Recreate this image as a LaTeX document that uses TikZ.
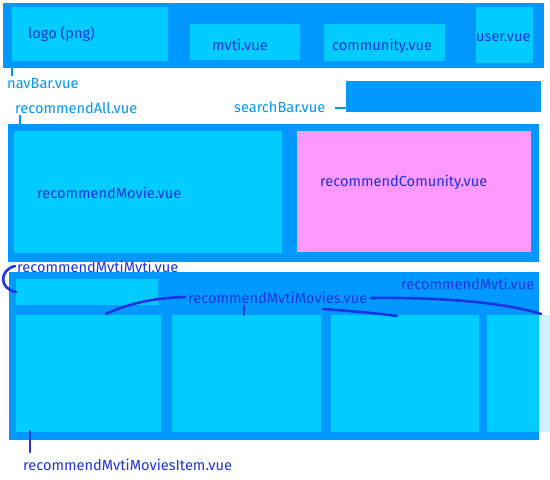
\documentclass[tikz,border=0pt]{standalone}
\usepackage{fontspec}
\setmainfont{Fira Sans}
\definecolor{cOuter}{RGB}{0,153,255}
\definecolor{cInner}{RGB}{0,204,255}
\definecolor{cPink}{RGB}{255,153,255}
\definecolor{cPale}{RGB}{204,242,255}
\definecolor{cDark}{RGB}{28,52,228}
\definecolor{cLight}{RGB}{0,150,255}
\begin{document}
\begin{tikzpicture}[x=1pt,y=-1pt,
  box/.style={draw=none, inner sep=0pt, outer sep=0pt, anchor=north west},
  outerbox/.style={box, fill=cOuter},
  innerbox/.style={box, fill=cInner},
  pinkbox/.style={box, fill=cPink},
  lab/.style={text=cDark, font=\fontsize{14.6}{16}\selectfont, inner sep=0pt, anchor=base west},
  lablight/.style={lab, text=cLight},
  wire/.style={draw=cDark, line width=2.6pt, line cap=round},
  wirelight/.style={draw=cLight, line width=2.6pt}]
\useasboundingbox (0,0) rectangle (550,480);
% navbar
\node[outerbox, minimum width=541pt, minimum height=65pt] (nav) at (3,3) {};
\node[innerbox, minimum width=156pt, minimum height=54pt] (logo) at (12,7) {};
\node[innerbox, minimum width=110pt, minimum height=36pt] (mvti) at (190,24) {};
\node[innerbox, minimum width=121pt, minimum height=37pt] (comm) at (324,24) {};
\node[innerbox, minimum width=57pt, minimum height=56pt] (user) at (476,7) {};
\node[lab] (logolbl) at (28,38) {logo (png)};
\node[lab] (mvtilbl) at (212,50) {mvti.vue};
\node[lab] (commlbl) at (332,50) {community.vue};
\node[lab] (userlbl) at (476,41) {user.vue};
\node[lablight] (navlbl) at (7,88) {navBar.vue};
\coordinate (navtick) at (12,76);
\draw[wirelight] (navtick |- nav.south) -- (navtick);
% search
\node[outerbox, minimum width=195pt, minimum height=31pt] (search) at (346,81) {};
\node[lablight] (searchlbl) at (234,112) {searchBar.vue};
\coordinate (searchdash) at (335,108);
\draw[wirelight] (searchdash) -- (searchdash -| search.west);
% recommendAll
\node[outerbox, minimum width=531pt, minimum height=138pt] (all) at (8,124) {};
\node[innerbox, minimum width=268pt, minimum height=122pt] (movie) at (14,131) {};
\node[pinkbox, minimum width=234pt, minimum height=121pt] (comu) at (297,131) {};
\node[lab] (movielbl) at (37,198) {recommendMovie.vue};
\node[lab] (comulbl) at (320,186) {recommendComunity.vue};
\node[lablight] (alllbl) at (15,113) {recommendAll.vue};
\coordinate (alltick) at (20,115);
\draw[wirelight] (alltick) -- (alltick |- all.north);
% recommendMvti
\node[outerbox, minimum width=530pt, minimum height=168pt] (mvtibox) at (9,272) {};
\node[innerbox, minimum width=142pt, minimum height=26pt] (mm) at (16,279) {};
\node[innerbox, minimum width=145pt, minimum height=116.5pt] (item1) at (16,315) {};
\node[innerbox, minimum width=149pt, minimum height=116.5pt] (item2) at (172,315) {};
\node[innerbox, minimum width=148pt, minimum height=116.5pt] (item3) at (331,315) {};
\node[innerbox, minimum width=63pt, minimum height=116.5pt] (item4) at (487,315) {};
\fill[cPale] (mvtibox.east |- item4.north) rectangle (item4.south east);
\node[lab] (mmlbl) at (17,272) {recommendMvtiMvti.vue};
\node[lab] (mvtiboxlbl) at (401,289) {recommendMvti.vue};
\node[lab] (movieslbl) at (188,303) {recommendMvtiMovies.vue};
\node[lab] (itemlbl) at (23,470) {recommendMvtiMoviesItem.vue};
\draw[wire] (15,266) .. controls (-1,270) and (-1,289) .. (mm.west);
\draw[wire] (185,297) .. controls (150,298) and (125,305) .. (106,314);
\coordinate (movtick) at (244,306);
\draw[wire] (movtick) -- (movtick |- item2.north);
\draw[wire] (323,309) .. controls (350,311) and (375,313) .. (397,316);
\draw[wire] (371,298) .. controls (450,297) and (510,304) .. (541,314);
\coordinate (itemtick) at (30,452);
\draw[wire] (itemtick |- item1.south) -- (itemtick);
\end{tikzpicture}
\end{document}
